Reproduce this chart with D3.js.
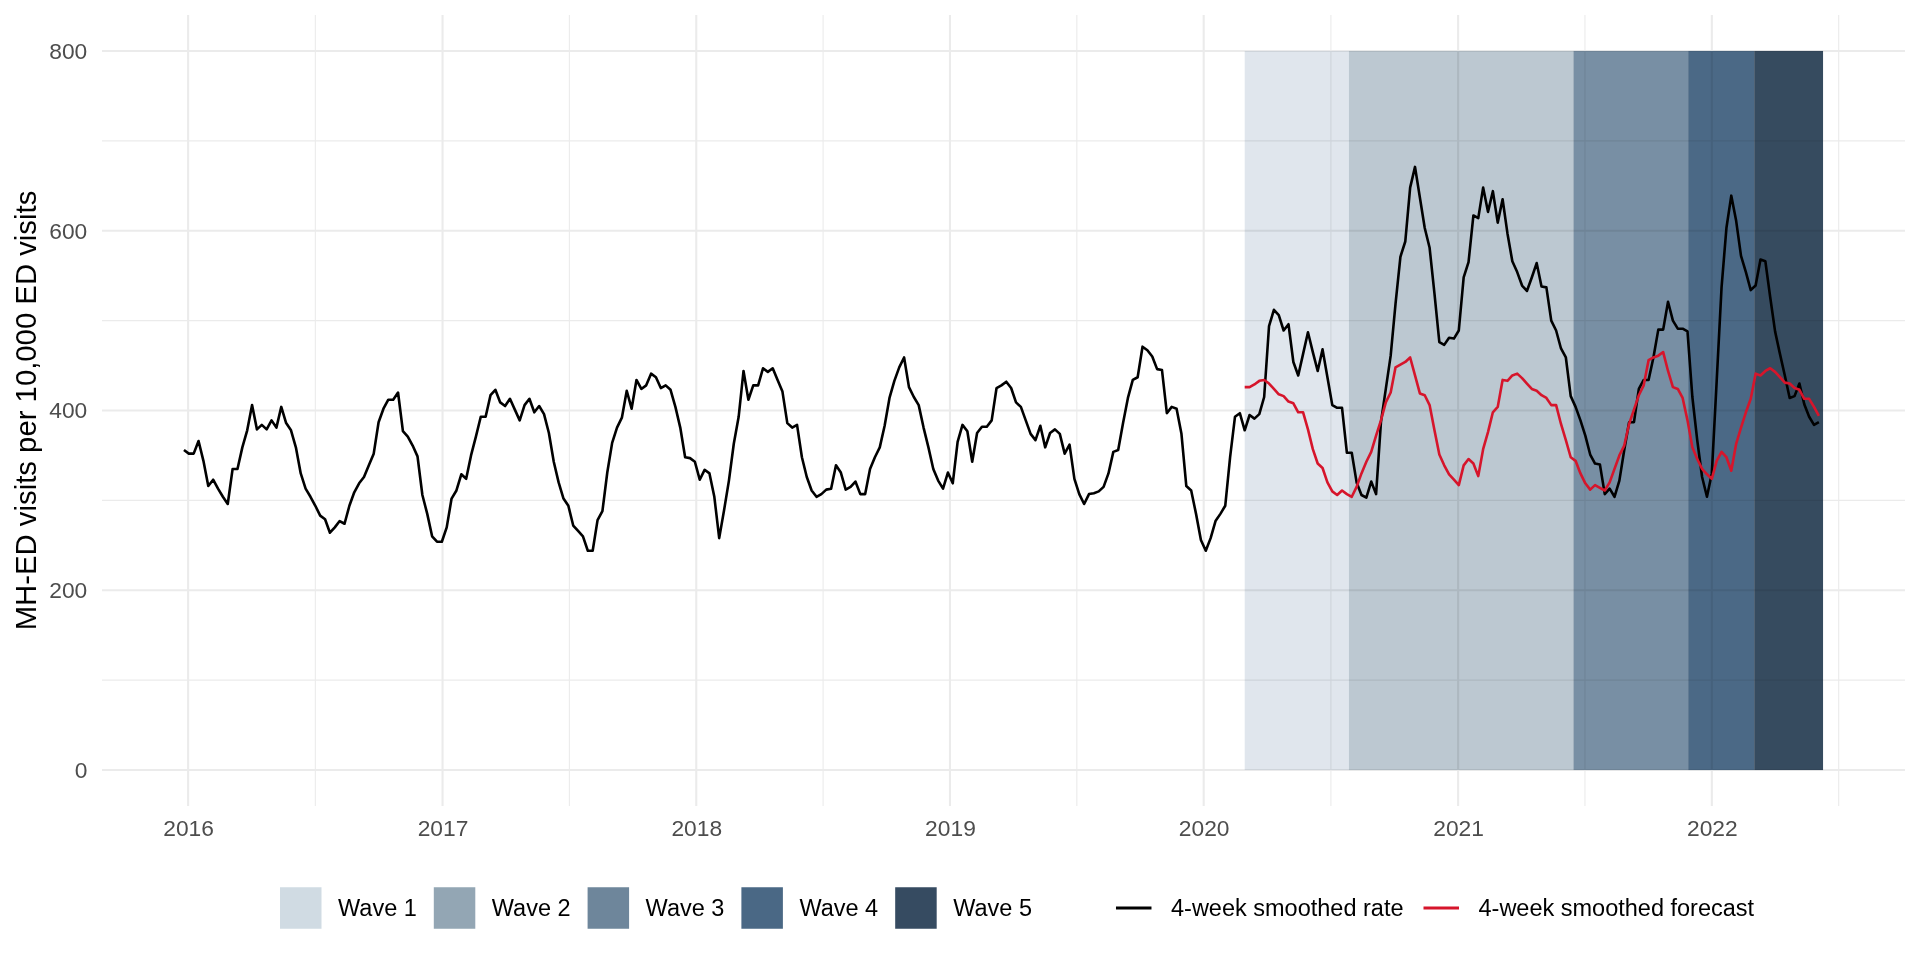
<!DOCTYPE html>
<html>
<head>
<meta charset="utf-8">
<script src="https://cdn.jsdelivr.net/npm/d3@7"></script>
<style>
  body { margin: 0; background: #fff; }
  svg { font-family: "Liberation Sans", Arial, Helvetica, sans-serif; }
</style>
</head>
<body>
<svg width="1920" height="960"></svg>
<script>
// weekly 4-week smoothed rate, from 2015-12-26
var rateStart = "2015-12-26"
var rate = [
  356,352,352,366,344,316,323,313,304,296,335,335,359,378,406,379,384,379,389,381,
  404,386,378,359,330,313,304,294,283,279,264,270,277,274,294,309,319,326,339,352,
  387,402,412,412,420,377,371,361,349,306,285,260,254,254,270,302,311,329,324,350,
  371,393,393,417,423,409,
  405,413,401,389,406,413,398,405,396,375,343,320,302,294,272,266,260,244,244,278,
  288,331,364,381,392,422,402,434,424,428,441,437,425,428,423,404,381,348,347,343,
  323,334,330,304,258,289,322,363,393,444,412,428,428,447,443,447,434,421,386,381,
  384,348,326,311,304,307,312,313,
  339,331,312,315,321,307,307,335,348,359,383,414,433,448,459,426,415,406,381,359,
  335,322,313,331,319,365,384,377,343,375,382,382,389,425,428,432,425,409,404,389,
  374,367,383,359,375,379,374,352,362,324,307,296,307,308,310,315,330,354,356,386,
  414,434,437,471,467,460,446,445,
  397,404,402,374,316,311,285,256,244,258,277,285,294,348,393,397,378,395,391,396,
  415,494,512,506,489,496,454,439,463,487,465,444,468,437,406,403,403,353,353,320,
  306,303,321,307,387,424,461,519,571,588,648,671,637,603,581,530,476,473,481,480,
  489,548,565,617,614,648,621,644,
  609,635,597,566,554,539,533,548,564,538,537,500,489,469,459,416,404,389,372,351,
  341,340,307,313,304,322,356,387,387,424,434,434,459,490,490,521,500,491,491,488,
  415,367,326,304,330,433,537,603,639,611,572,554,534,539,568,566,526,488,463,439,
  414,416,430,407,393,384,387
]

// weekly 4-week smoothed forecast, from 2020-02-29
var forecastStart = "2020-02-29"
var forecast = [
  426,426,429,433,434,430,424,418,416,410,408,398,398,379,357,341,336,320,310,306,
  311,307,304,315,330,343,354,372,389,409,420,448,451,454,459,439,419,417,406,378,
  351,339,329,323,317,339,346,341,327,357,376,398,
  404,434,433,439,441,436,430,424,422,417,414,406,406,385,367,348,344,330,319,312,
  317,314,311,320,335,350,361,385,401,417,428,456,459,461,465,444,426,424,414,389,
  359,346,335,329,324,344,354,348,333,363,381,398,413,441,439,444,447,443,437,431,
  430,425,423,413,413,404,394
]

var waves = ["Wave 1", "Wave 2", "Wave 3", "Wave 4", "Wave 5"]
var waveStarts = ["2020-02-29", "2020-07-28", "2021-06-16", "2021-11-28", "2022-03-03"]
var waveEnds = ["2020-07-28", "2021-06-16", "2021-11-28", "2022-03-03", "2022-06-10"]
var waveTop = 800

var yTicks = [0, 200, 400, 600, 800]
var yMinor = [100, 300, 500, 700]
var years = [2016, 2017, 2018, 2019, 2020, 2021, 2022]

var seriesNames = ["4-week smoothed rate", "4-week smoothed forecast"]

var panelFill = ["#e0e6ed", "#bcc8d1", "#788fa4", "#4b6986", "#364b5f"]
var keyFill = ["#d0dbe3", "#93a6b4", "#6e869b", "#4a6885", "#364b61"]
var lineColors = ["#000000", "#d6152b"]

var parse = d3.utcParse("%Y-%m-%d")
var pLeft = 102, pRight = 1905, pTop = 15, pBottom = 806

var rateData = rate.map((v, i) => ({date: d3.utcDay.offset(parse(rateStart), 7 * i), value: v}))
var fcData = forecast.map((v, i) => ({date: d3.utcDay.offset(parse(forecastStart), 7 * i), value: v}))
var waveData = waves.map((w, i) => ({name: w, x0: parse(waveStarts[i]), x1: parse(waveEnds[i]), i: i}))

var xMin = rateData[0].date
var xMax = d3.max(waveData, d => d.x1)
var pad = (xMax - xMin) * 0.05
var x = d3.scaleUtc()
  .domain([new Date(+xMin - pad), new Date(+xMax + pad)])
  .range([pLeft, pRight])

var y = d3.scaleLinear()
  .domain([-40, 840])
  .range([pBottom, pTop])

var svg = d3.select("svg")

var yearDates = years.map(yr => new Date(Date.UTC(yr, 0, 1)))
var midYears = years.concat([2023]).map(yr => new Date((Date.UTC(yr - 1, 0, 1) + Date.UTC(yr, 0, 1)) / 2))
  .filter(d => x(d) > pLeft && x(d) < pRight)

// grid
var grid = svg.append("g")
grid.selectAll(".ymin")
  .data(yMinor)
  .join("line")
  .attr("x1", pLeft).attr("x2", pRight)
  .attr("y1", d => y(d)).attr("y2", d => y(d))
  .attr("stroke", "#ebebeb").attr("stroke-width", 1.1)
grid.selectAll(".xmin")
  .data(midYears)
  .join("line")
  .attr("x1", d => x(d)).attr("x2", d => x(d))
  .attr("y1", pTop).attr("y2", pBottom)
  .attr("stroke", "#ebebeb").attr("stroke-width", 1.1)
grid.selectAll(".ymaj")
  .data(yTicks)
  .join("line")
  .attr("x1", pLeft).attr("x2", pRight)
  .attr("y1", d => y(d)).attr("y2", d => y(d))
  .attr("stroke", "#ebebeb").attr("stroke-width", 2.1)
grid.selectAll(".xmaj")
  .data(yearDates)
  .join("line")
  .attr("x1", d => x(d)).attr("x2", d => x(d))
  .attr("y1", pTop).attr("y2", pBottom)
  .attr("stroke", "#ebebeb").attr("stroke-width", 2.1)

// wave shading
svg.append("g")
  .selectAll("rect")
  .data(waveData)
  .join("rect")
  .attr("x", d => x(d.x0))
  .attr("width", d => x(d.x1) - x(d.x0))
  .attr("y", y(waveTop))
  .attr("height", y(0) - y(waveTop))
  .attr("fill", d => panelFill[d.i])
  .style("mix-blend-mode", "multiply")

var line = d3.line()
  .x(d => x(d.date))
  .y(d => y(d.value))

svg.append("path")
  .datum(rateData)
  .attr("d", line)
  .attr("fill", "none")
  .attr("stroke", lineColors[0])
  .attr("stroke-width", 2.6)
  .attr("stroke-linejoin", "round")

svg.append("path")
  .datum(fcData)
  .attr("d", line)
  .attr("fill", "none")
  .attr("stroke", lineColors[1])
  .attr("stroke-width", 2.6)
  .attr("stroke-linejoin", "round")

// axes
var xAxis = svg.append("g")
  .attr("transform", `translate(0,${pBottom})`)
  .call(d3.axisBottom(x)
    .tickValues(yearDates)
    .tickFormat(d3.utcFormat("%Y"))
    .tickSize(0)
    .tickPadding(14))
xAxis.select(".domain").remove()
xAxis.selectAll("text")
  .attr("fill", "#4d4d4d")
  .style("font-size", "22.8px")
  .style("font-family", "Liberation Sans, Arial, sans-serif")

var yAxis = svg.append("g")
  .attr("transform", `translate(${pLeft},0)`)
  .call(d3.axisLeft(y)
    .tickValues(yTicks)
    .tickSize(0)
    .tickPadding(14.7))
yAxis.select(".domain").remove()
yAxis.selectAll("text")
  .attr("fill", "#4d4d4d")
  .style("font-size", "22.8px")
  .style("font-family", "Liberation Sans, Arial, sans-serif")

svg.append("text")
  .attr("transform", `translate(36,${(pTop + pBottom) / 2}) rotate(-90)`)
  .attr("text-anchor", "middle")
  .style("font-size", "29.3px")
  .attr("fill", "#000")
  .text("MH-ED visits per 10,000 ED visits")

// legend
var leg = svg.append("g").style("font-size", "23.5px")
var legY = 908
var keyW = 41.5
var cx = 280
waves.forEach((w, i) => {
  leg.append("rect")
    .attr("x", cx).attr("y", legY - keyW / 2)
    .attr("width", keyW).attr("height", keyW)
    .attr("fill", keyFill[i])
  var t = leg.append("text")
    .attr("x", cx + keyW + 16.5).attr("y", legY)
    .attr("dy", "0.35em")
    .text(w)
  cx += keyW + 16.5 + t.node().getComputedTextLength() + 17
})
cx += 64
seriesNames.forEach((s, i) => {
  leg.append("line")
    .attr("x1", cx + 3).attr("x2", cx + keyW - 3)
    .attr("y1", legY).attr("y2", legY)
    .attr("stroke", lineColors[i])
    .attr("stroke-width", 3)
  var t = leg.append("text")
    .attr("x", cx + keyW + 16.5).attr("y", legY)
    .attr("dy", "0.35em")
    .text(s)
  cx += keyW + 16.5 + t.node().getComputedTextLength() + 17
})
</script>
</body>
</html>
